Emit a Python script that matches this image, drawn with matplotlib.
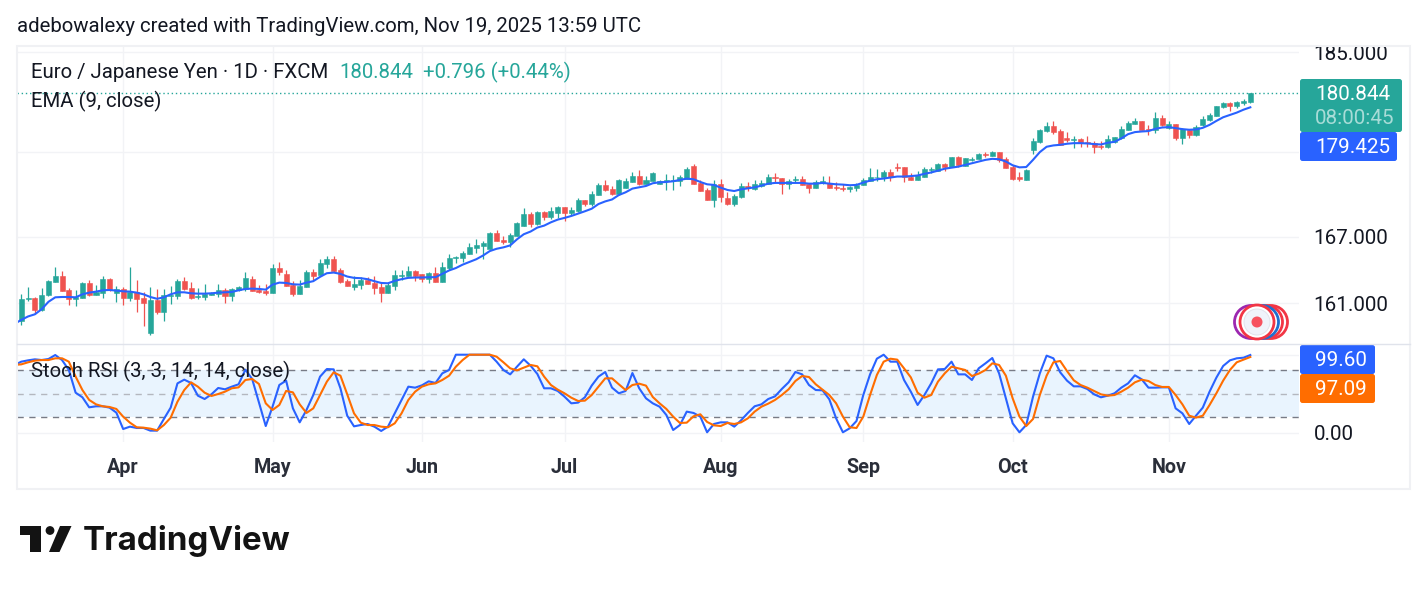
import numpy as np
import matplotlib
matplotlib.use("Agg")
import matplotlib.pyplot as plt
from matplotlib.patches import Rectangle, Circle, Polygon, FancyBboxPatch
from matplotlib.ticker import NullLocator, NullFormatter

# EUR/JPY daily candles, Mar 2025 to Nov 2025
opens = [
    159.45,161.32,161.48,160.36,161.72,162.89,163.44,162.14,161.38,161.45,
    162.80,161.72,161.90,163.17,161.90,162.26,161.45,161.99,161.45,158.37,
    161.26,160.18,161.63,161.63,162.99,162.35,161.54,161.54,161.75,161.81,
    162.17,161.63,162.17,162.26,163.17,162.17,162.08,161.90,164.16,163.62,
    162.62,161.81,162.44,163.80,163.53,164.53,164.98,163.98,162.99,162.44,
    162.62,163.08,162.80,162.44,161.90,162.53,163.44,163.44,163.89,163.62,
    163.17,163.71,162.89,164.15,165.08,165.08,165.45,166.01,166.19,165.88,
    167.34,166.72,166.53,167.09,168.05,169.14,168.21,169.33,168.86,169.23,
    169.79,169.23,169.42,170.44,170.07,170.92,171.88,171.49,171.02,171.59,
    172.16,172.74,171.97,172.26,172.00,172.26,172.26,172.26,172.45,173.70,
    172.07,171.40,170.44,171.97,170.63,170.07,170.73,171.78,171.49,171.78,
    171.97,172.64,172.55,171.97,172.36,172.45,171.97,171.59,172.07,172.07,
    171.69,171.59,171.49,171.59,171.88,172.29,172.59,172.59,173.07,173.56,
    173.56,172.68,172.39,172.68,173.27,173.24,173.86,173.56,174.54,173.66,
    174.31,174.34,174.83,174.70,175.03,174.34,173.56,172.59,172.39,175.22,
    176.00,177.08,177.56,177.08,176.39,176.20,176.29,176.00,175.90,175.61,
    175.51,176.00,176.39,177.17,177.76,178.05,177.27,177.17,178.34,177.37,
    177.76,176.39,177.17,176.68,177.66,178.15,178.54,179.42,179.81,179.52,
    179.81,180.00,
]
highs = [
    161.81,162.44,161.51,162.32,163.08,164.25,163.89,162.32,162.17,162.89,
    163.08,162.62,163.44,163.26,162.53,162.44,164.25,163.08,161.99,162.44,
    162.26,162.26,162.53,163.17,163.35,162.89,162.35,162.71,161.99,162.71,
    162.35,162.35,162.53,163.80,163.44,162.62,162.71,164.53,164.71,163.98,
    162.99,163.08,163.98,164.07,164.98,165.25,165.25,164.16,163.17,163.44,
    163.35,163.35,163.44,162.89,162.89,163.98,163.98,164.34,163.98,163.62,
    163.80,164.25,164.71,165.39,165.23,165.67,166.41,166.78,166.60,167.46,
    167.65,167.09,167.37,168.39,169.70,169.33,169.42,169.42,169.79,169.88,
    169.79,169.79,170.63,170.44,171.30,172.07,172.36,171.78,172.45,172.55,
    173.12,173.31,172.74,173.12,172.36,172.93,172.84,172.84,173.60,173.89,
    172.36,171.59,172.36,172.45,171.21,171.02,172.07,172.16,172.36,172.36,
    172.93,173.03,172.55,172.45,172.74,172.74,172.07,172.36,172.74,172.74,
    172.16,171.97,171.78,172.07,172.55,173.46,173.37,173.27,173.37,173.95,
    173.56,172.98,173.17,173.56,173.56,173.95,173.95,174.54,174.64,174.44,
    174.54,174.93,175.03,175.12,175.03,174.54,173.76,173.07,173.37,176.39,
    177.27,177.95,178.05,177.27,176.98,176.59,176.39,176.59,176.10,176.10,
    176.68,176.49,177.56,178.05,178.34,178.05,177.66,178.93,178.64,178.05,
    177.76,177.37,177.27,177.66,178.54,178.83,179.52,180.00,180.00,180.10,
    180.30,180.88,
]
lows = [
    159.03,161.20,160.00,160.27,161.66,162.89,162.08,160.81,160.72,161.45,
    161.66,161.72,161.45,162.08,161.08,160.81,161.17,160.18,159.00,158.19,
    160.00,159.45,160.90,161.35,162.17,161.35,161.35,161.26,161.72,161.54,
    160.99,161.17,162.08,162.08,162.08,161.90,161.72,161.90,163.53,162.53,
    161.63,161.81,162.44,163.08,163.53,164.16,163.80,162.80,162.53,162.17,
    162.26,162.71,161.81,161.08,161.90,162.17,163.08,163.44,162.99,162.89,
    162.80,162.89,162.89,164.00,164.61,164.70,165.42,165.54,164.98,165.85,
    166.63,166.35,166.10,167.09,168.02,167.93,168.11,168.58,168.67,168.77,
    168.49,169.05,169.33,169.88,169.88,170.92,171.30,170.92,170.92,171.59,
    172.16,171.88,171.97,172.26,171.97,171.40,171.40,171.78,172.45,171.97,
    171.30,170.44,169.79,170.25,169.97,169.88,170.63,171.30,171.40,171.69,
    171.97,172.16,171.02,171.49,172.16,171.88,171.11,171.59,171.97,171.59,
    171.40,171.30,171.21,171.30,171.88,172.26,172.26,172.29,172.29,173.17,
    172.20,172.39,172.39,172.68,172.98,173.17,173.17,173.56,173.56,173.66,
    174.15,174.34,174.54,174.64,174.05,173.46,172.39,172.29,172.39,174.83,
    175.90,176.98,176.78,175.71,176.00,175.42,175.51,175.51,174.93,175.32,
    175.42,175.90,176.29,177.17,177.76,177.17,176.68,176.88,177.56,177.27,
    176.20,175.81,176.39,176.59,177.56,178.05,178.54,179.32,179.03,179.32,
    179.61,179.81,
]
closes = [
    161.32,161.42,160.36,161.72,162.99,163.44,162.08,161.35,161.51,162.80,
    161.72,161.99,163.17,162.17,162.26,161.45,161.99,161.35,160.99,161.26,
    160.18,161.72,161.72,162.99,162.26,161.45,161.63,161.81,161.87,162.17,
    161.63,162.26,162.44,163.26,162.08,161.99,161.90,164.16,163.80,162.53,
    161.81,162.53,163.80,163.44,164.62,164.98,163.89,162.89,162.53,162.71,
    163.08,162.71,162.35,161.90,162.62,163.53,163.53,163.89,163.44,163.17,
    163.71,162.89,164.25,165.08,165.14,165.51,166.07,166.25,166.44,167.37,
    166.63,166.57,167.19,168.30,169.14,168.21,169.33,168.83,169.42,169.79,
    169.23,169.51,170.44,170.07,171.02,171.88,171.43,171.02,172.36,172.26,
    172.74,171.97,172.36,173.03,172.26,172.36,172.36,172.64,173.41,171.97,
    171.30,170.44,171.97,170.73,170.07,170.82,171.78,171.59,171.97,172.07,
    172.64,172.55,171.97,172.26,172.45,171.88,171.59,172.16,172.26,171.59,
    171.59,171.49,171.69,171.88,172.36,172.68,172.68,173.07,172.68,173.46,
    172.68,172.39,172.78,173.37,173.37,173.86,173.56,174.54,173.76,174.44,
    174.41,174.83,174.73,175.03,174.25,173.46,172.49,172.49,173.27,176.10,
    177.17,177.56,176.98,175.71,176.20,176.29,175.90,175.90,175.51,175.51,
    176.29,176.49,177.27,177.86,178.05,177.17,177.17,178.34,177.66,177.76,
    176.39,177.27,176.68,177.47,178.25,178.64,179.52,179.81,179.52,179.91,
    180.048,180.844,
]

# indicator series start one bar earlier than the first visible candle
ema9 = [
    159.15,
    159.51,159.81,160.00,160.45,161.11,161.51,161.54,161.54,161.51,161.78,
    161.93,162.02,162.14,162.17,162.11,162.05,162.02,161.93,161.78,161.54,
    161.38,161.51,161.78,161.96,161.96,161.87,161.84,161.84,161.87,161.93,
    161.96,161.99,162.14,162.26,162.29,162.26,162.20,162.65,162.83,162.80,
    162.68,162.65,162.83,162.96,163.35,163.68,163.74,163.62,163.38,163.26,
    163.23,163.14,162.96,162.80,162.77,162.99,163.14,163.26,163.29,163.29,
    163.32,163.32,163.62,163.93,164.15,164.46,164.70,164.95,165.29,165.70,
    165.91,166.04,166.22,166.78,167.25,167.50,167.87,168.05,168.36,168.61,
    168.77,168.95,169.17,169.39,169.63,170.07,170.32,170.50,170.92,171.18,
    171.53,171.65,171.78,172.04,172.13,172.16,172.23,172.36,172.48,172.42,
    172.16,171.94,171.88,171.62,171.40,171.30,171.46,171.56,171.65,171.81,
    172.00,172.07,172.07,172.07,172.07,172.07,172.00,172.00,172.07,172.00,
    171.94,171.91,171.85,171.88,172.10,172.29,172.42,172.49,172.59,172.68,
    172.68,172.72,172.78,172.94,173.07,173.24,173.43,173.53,173.63,173.79,
    173.95,174.12,174.28,174.38,174.34,174.12,173.76,173.56,173.59,174.28,
    175.03,175.55,175.68,175.74,175.84,175.90,175.90,175.87,175.81,175.77,
    175.94,176.03,176.36,176.78,176.98,177.04,177.08,177.30,177.43,177.47,
    177.37,177.27,177.21,177.24,177.40,177.69,178.08,178.44,178.67,178.90,
    179.19,179.425,
]
stoch_k = [
    86.9,
    91.1,92.8,94.1,93.2,94.5,99.6,93.2,80.5,51.5,45.6,
    32.8,34.1,34.1,32.4,26.0,5.1,8.1,6.4,6.4,3.0,
    3.0,17.9,32.4,63.4,68.1,63.9,47.7,43.4,49.4,57.5,
    55.8,59.2,62.2,80.9,69.0,39.2,8.9,33.6,61.3,66.9,
    31.5,13.6,29.4,48.5,72.0,81.7,81.3,57.1,22.1,8.5,
    10.2,11.5,8.1,2.6,8.1,25.1,42.2,59.2,57.9,60.9,
    66.0,63.9,76.2,80.5,100,100,100,100,100,100,
    91.1,80.5,74.9,84.7,94.1,86.0,75.4,57.1,57.1,53.7,
    46.4,37.9,38.8,45.6,60.5,72.0,77.9,57.9,50.7,53.7,
    76.6,57.1,44.3,37.9,33.6,23.0,3.8,10.2,27.3,25.6,
    20.9,0.9,11.5,13.6,13.6,8.1,16.2,25.6,34.1,36.6,
    43.4,46.8,56.2,64.7,77.9,74.9,61.3,54.9,54.5,43.0,
    18.7,0.9,6.0,15.3,48.5,74.9,94.9,100,91.1,91.1,
    67.7,52.8,35.8,48.5,63.4,81.3,81.7,91.1,74.9,74.9,
    67.7,82.6,89.0,95.8,76.2,44.3,12.4,0.9,10.2,46.4,
    76.2,98.8,95.4,77.5,66.9,59.6,59.6,56.2,49.4,45.6,
    47.7,50.7,57.9,63.4,73.7,68.6,57.9,57.9,58.3,58.3,
    31.5,25.1,11.5,22.1,32.4,52.8,70.7,85.6,92.8,95.4,
    96.2,99.60,
]
stoch_d = [
    86.9,
    87.7,90.3,92.4,93.2,93.2,95.4,95.4,91.1,72.0,54.9,
    42.2,36.6,34.1,33.2,30.7,20.9,13.2,7.3,6.8,5.6,
    3.4,10.2,19.6,40.0,54.9,64.7,59.2,51.5,47.3,49.8,
    52.8,57.1,58.3,67.7,69.0,62.6,37.9,29.4,35.8,53.7,
    51.9,36.6,25.6,31.5,48.5,65.6,77.5,73.2,49.4,25.1,
    13.2,10.2,10.2,8.1,7.3,12.4,25.1,42.2,52.8,59.2,
    62.2,63.4,67.7,73.2,84.7,93.2,100,100,100,100,
    97.5,90.3,82.6,80.0,83.5,86.9,85.2,72.0,61.3,55.4,
    50.7,45.1,40.9,41.3,48.5,59.2,69.8,69.8,62.2,54.9,
    61.3,63.0,60.5,46.0,37.9,30.7,20.9,12.8,13.2,21.3,
    23.9,14.1,9.8,8.9,12.8,11.5,13.6,18.7,27.3,33.6,
    37.5,42.2,48.5,55.8,66.4,72.8,71.5,62.2,55.4,48.5,
    37.9,20.9,7.3,6.4,20.9,48.5,74.1,91.1,94.9,93.7,
    82.6,71.1,51.5,45.1,48.5,65.6,76.2,84.7,82.6,80.5,
    72.8,75.8,80.5,89.0,86.9,73.2,44.3,20.9,8.9,17.9,
    48.5,73.2,90.3,92.0,79.2,67.3,61.3,57.9,53.7,49.4,
    47.7,48.5,52.8,57.9,64.7,68.1,66.4,61.3,58.8,58.8,
    48.5,36.6,22.1,19.6,22.1,35.8,50.7,66.9,80.5,90.3,
    93.7,97.09,
]

month_bars = [15, 37, 59, 80, 103, 124, 146, 169]
month_labels = ["Apr", "May", "Jun", "Jul", "Aug", "Sep", "Oct", "Nov"]
price_ticks = [185, 175, 167, 161]
price_tick_labels = ["185.000", "", "167.000", "161.000"]
last_price = closes[-1]
last_ema = ema9[-1]

GREEN = "#26a69a"
RED = "#ef5350"
BLUE = "#2962ff"
ORANGE = "#ff6d00"
INK = "#131722"
GRID = "#f2f3f6"
W, H = 1428, 591

plt.rcParams["font.family"] = ["Roboto", "DejaVu Sans"]
fig = plt.figure(figsize=(W / 100, H / 100), dpi=100, facecolor="white")


def box(left, top, right, bottom):
    return [left / W, 1 - bottom / H, (right - left) / W, (bottom - top) / H]


xlim = (-0.633, 188.17)
bars = np.arange(len(closes))
ind_x = np.arange(-1, len(closes))

# price pane
ax = fig.add_axes(box(17, 46, 1299, 344))
ax.set_yscale("log")
ax.set_xlim(*xlim)
ax.set_ylim(157.39, 185.62)
colors = [GREEN if c >= o else RED for o, c in zip(opens, closes)]
ax.vlines(bars, lows, highs, colors=colors, lw=0.9, zorder=3)
body_low = np.minimum(opens, closes)
body_high = np.maximum(opens, closes)
ax.bar(bars, body_high - body_low, bottom=body_low, width=0.74, color=colors,
       edgecolor=colors, lw=0.4, zorder=3)
ax.plot(ind_x, ema9, color=BLUE, lw=1.5, zorder=4)
ax.axhline(last_price, color=GREEN, lw=1, ls=(0, (1, 2)), zorder=2)
ax.set_yticks(price_ticks)
ax.set_yticklabels(price_tick_labels)
ax.yaxis.set_minor_locator(NullLocator())
ax.yaxis.set_minor_formatter(NullFormatter())
ax.yaxis.tick_right()
ax.tick_params(axis="y", length=0, pad=10.5, labelsize=14.9, labelcolor=INK)
ax.set_xticks(month_bars)
ax.tick_params(axis="x", length=0, labelbottom=False)
ax.grid(True, color=GRID, lw=1)
ax.set_axisbelow(True)
for side in ax.spines.values():
    side.set_visible(False)

# stochastic RSI pane
ax2 = fig.add_axes(box(17, 345, 1299, 442))
ax2.set_xlim(*xlim)
ax2.set_ylim(-11.5, 112.4)
ax2.axhspan(20, 80, color="#e9f4fe", lw=0, zorder=1)
ax2.axhline(80, color="#787b86", lw=1, ls=(0, (4.5, 4)), zorder=2)
ax2.axhline(50, color="#b4b7bf", lw=1, ls=(0, (4.5, 4)), zorder=2)
ax2.axhline(20, color="#787b86", lw=1, ls=(0, (4.5, 4)), zorder=2)
ax2.plot(ind_x, stoch_k, color=BLUE, lw=1.5, zorder=3)
ax2.plot(ind_x, stoch_d, color=ORANGE, lw=1.5, zorder=4)
ax2.set_yticks([0, 100])
ax2.set_yticklabels(["0.00", ""])
ax2.yaxis.tick_right()
ax2.tick_params(axis="y", length=0, pad=10.5, labelsize=14.9, labelcolor=INK)
ax2.set_xticks(month_bars)
ax2.set_xticklabels(month_labels, fontweight="bold", fontsize=14.2, color="#2a2e39")
ax2.tick_params(axis="x", length=0, pad=11.5)
ax2.grid(True, color=GRID, lw=1)
ax2.set_axisbelow(True)
for side in ax2.spines.values():
    side.set_visible(False)

# overlay in pixel coordinates for legend text, price tags and branding
ov = fig.add_axes([0, 0, 1, 1], zorder=10)
ov.set_xlim(0, W)
ov.set_ylim(H, 0)
ov.axis("off")
ov.patch.set_alpha(0)

ov.add_patch(Rectangle((17, 46), 1393, 443, fill=False, ec="#f0f1f4", lw=1.5))
ov.plot([17, 1410], [344, 344], color="#e0e3eb", lw=1)

ov.text(17, 26.7, "adebowalexy created with TradingView.com, Nov 19, 2025 13:59 UTC",
        fontsize=14.7, color=INK, va="center")
ov.text(31, 72.7, "Euro / Japanese Yen · 1D · FXCM", fontsize=14.65, color=INK, va="center")
ov.text(339, 72.7, "180.844", fontsize=14.65, color=GREEN, va="center")
ov.text(423, 72.7, "+0.796 (+0.44%)", fontsize=14.65, color=GREEN, va="center")
ov.text(31, 101.7, "EMA (9, close)", fontsize=14.65, color=INK, va="center")
ov.text(31, 371.7, "Stoch RSI (3, 3, 14, 14, close)", fontsize=14.65, color=INK, va="center")


def tag(top, bottom, right, color):
    ov.add_patch(FancyBboxPatch((1300, top), right - 1300, bottom - top,
                                boxstyle="round,pad=0,rounding_size=2.5", fc=color, ec="none"))


tag(79, 132, 1402, GREEN)
tag(132, 161, 1397, BLUE)
tag(345, 374, 1375, BLUE)
tag(374, 403, 1375, ORANGE)
ov.text(1315, 94.5, f"{last_price:.3f}", fontsize=14.9, color="white", va="center")
ov.text(1315, 118.5, "08:00:45", fontsize=14.9, color="#a8dcd7", va="center")
ov.text(1315, 147.5, f"{last_ema:.3f}", fontsize=14.9, color="white", va="center")
ov.text(1315, 361, f"{stoch_k[-1]:.2f}", fontsize=14.9, color="white", va="center")
ov.text(1315, 389.5, f"{stoch_d[-1]:.2f}", fontsize=14.9, color="white", va="center")

# replay marker
for cx, ec in [(1251, "#9c27b0"), (1271, "#f23645"), (1266, "#f23645"), (1262, "#1e6fd0")]:
    ov.add_patch(Circle((cx, 322), 16.5, fc="white", ec=ec, lw=2))
ov.add_patch(Circle((1257, 322), 17, fc="white", ec="#f23645", lw=2))
ov.add_patch(Circle((1257, 322), 13, fc="#f0f3fa", ec="#e0e3eb", lw=0.7))
ov.add_patch(Circle((1257, 322), 5.5, fc="#f7525f", ec="none"))

# logo
LOGO = "#131313"
ov.add_patch(Polygon([(20, 526), (41, 526), (41, 552), (30, 552), (30, 534.5), (20, 534.5)],
                     fc=LOGO, ec="none"))
ov.add_patch(Circle((50, 530.5), 4.4, fc=LOGO, ec="none"))
ov.add_patch(Polygon([(60, 526), (71.5, 526), (59.5, 552), (49, 552)], fc=LOGO, ec="none"))
ov.text(83, 541, "TradingView", fontsize=23.8, fontweight="bold", family="Inter",
        color=LOGO, va="center")

fig.savefig("out.png", dpi=100)
plt.close(fig)
